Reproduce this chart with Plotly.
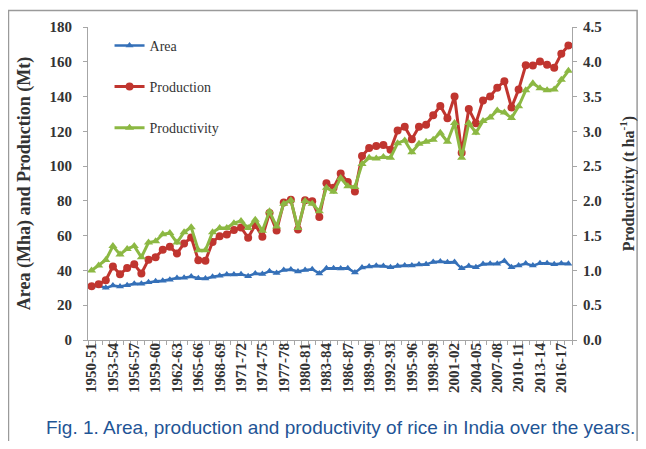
import plotly.graph_objects as go

start_years = list(range(1950, 2018))
year_labels = [f"{y}-{str(y + 1)[-2:]}" for y in start_years]

area_mha = [30.8, 31.3, 30.0, 31.3, 30.8, 31.5, 32.3, 32.3, 33.2, 33.8,
            34.1, 34.7, 35.7, 35.8, 36.5, 35.5, 35.3, 36.4, 37.0, 37.7,
            37.6, 37.8, 36.7, 38.3, 37.9, 39.5, 38.5, 40.3, 40.5, 39.4,
            40.2, 40.7, 38.3, 41.2, 41.2, 41.1, 41.2, 38.8, 41.7, 42.2,
            42.7, 42.6, 41.8, 42.5, 42.8, 42.8, 43.4, 43.5, 44.8, 45.2,
            44.7, 44.9, 41.2, 42.6, 41.9, 43.7, 43.8, 43.9, 45.5, 41.9,
            42.9, 44.0, 42.8, 44.1, 44.1, 43.5, 44.0, 43.8]

production_mt = [30.9, 32.0, 34.4, 42.3, 37.8, 41.4, 43.5, 38.3, 46.2, 47.6,
                 51.9, 53.6, 49.8, 55.5, 59.0, 45.9, 45.6, 56.4, 59.7, 60.6,
                 63.3, 64.7, 58.8, 66.2, 59.4, 73.1, 62.9, 79.1, 80.7, 63.5,
                 80.4, 79.8, 70.7, 90.2, 87.5, 95.7, 90.9, 85.4, 105.8, 110.4,
                 111.5, 112.1, 109.4, 120.5, 122.7, 115.5, 122.6, 123.8, 129.2, 134.6,
                 127.5, 140.0, 107.7, 132.8, 124.7, 137.7, 140.1, 145.1, 148.8, 133.7,
                 144.0, 158.0, 157.8, 160.1, 158.3, 156.6, 164.6, 169.4]

productivity_t_ha = [1.00, 1.07, 1.15, 1.35, 1.23, 1.31, 1.35, 1.19, 1.40, 1.42,
                     1.52, 1.54, 1.40, 1.55, 1.62, 1.29, 1.29, 1.55, 1.61, 1.61,
                     1.68, 1.71, 1.61, 1.73, 1.57, 1.85, 1.63, 1.96, 2.01, 1.61,
                     2.00, 1.96, 1.85, 2.19, 2.13, 2.33, 2.21, 2.20, 2.53, 2.62,
                     2.61, 2.63, 2.62, 2.83, 2.87, 2.70, 2.82, 2.85, 2.88, 2.98,
                     2.85, 3.12, 2.62, 3.12, 2.98, 3.15, 3.20, 3.30, 3.27, 3.19,
                     3.36, 3.59, 3.69, 3.62, 3.59, 3.60, 3.74, 3.87]

BLUE = "#3570b8"
RED = "#c0352f"
GREEN = "#8cb843"
SERIF = "Liberation Serif, Times New Roman, serif"
AXIS_GRAY = "#a6a6a6"
TXT = "#333333"

fig = go.Figure()
fig.add_trace(go.Scatter(
    x=start_years, y=area_mha, name="Area", legendgroup="a",
    mode="lines+markers", line=dict(color=BLUE, width=2.5),
    marker=dict(symbol="triangle-up", size=7, color=BLUE)))
fig.add_trace(go.Scatter(
    x=start_years, y=production_mt, name="Production", legendgroup="p",
    mode="lines+markers", line=dict(color=RED, width=3),
    marker=dict(symbol="circle", size=8, color=RED)))
fig.add_trace(go.Scatter(
    x=start_years, y=productivity_t_ha, name="Productivity", legendgroup="q",
    yaxis="y2",
    mode="lines+markers", line=dict(color=GREEN, width=3),
    marker=dict(symbol="triangle-up", size=8, color=GREEN)))

tick_font = dict(family=SERIF, size=15, color=TXT, weight="bold")

fig.update_layout(
    width=630, height=433,
    margin=dict(l=80, r=66, t=19, b=101),
    paper_bgcolor="white", plot_bgcolor="white",
    showlegend=True,
    legend=dict(x=0.0445, y=0.991, xanchor="left", yanchor="top",
                font=dict(family=SERIF, size=14, color=TXT),
                tracegroupgap=20, bgcolor="rgba(0,0,0,0)"),
    xaxis=dict(
        range=[1949.5, 2017.5], automargin=False,
        tickmode="array",
        tickvals=start_years[::3],
        ticktext=year_labels[::3],
        tickangle=-90,
        tickfont=tick_font, ticklabelstandoff=-4,
        ticks="", showgrid=False, zeroline=False,
        showline=True, linecolor=AXIS_GRAY, linewidth=1,
        minor=dict(ticks="outside", tick0=1949.5, dtick=1, ticklen=4,
                   tickcolor=AXIS_GRAY, showgrid=False),
    ),
    yaxis=dict(
        range=[0, 180], dtick=20, tick0=0, automargin=False,
        tickfont=tick_font, ticklabelstandoff=8,
        title=dict(text="Area (Mha) and Production (Mt)",
                   font=dict(family=SERIF, size=18, color=TXT, weight="bold"),
                   standoff=14),
        ticks="outside", ticklen=4, tickcolor=AXIS_GRAY,
        showgrid=False, zeroline=False,
        showline=True, linecolor=AXIS_GRAY, linewidth=1,
    ),
    yaxis2=dict(
        range=[0, 4.5], dtick=0.5, tick0=0, tickformat=".1f", automargin=False,
        overlaying="y", side="right",
        tickfont=tick_font, ticklabelstandoff=3,
        title=dict(text="Productivity (t ha<sup>-1</sup>)",
                   font=dict(family=SERIF, size=16, color=TXT, weight="bold"),
                   standoff=24),
        ticks="outside", ticklen=4, tickcolor=AXIS_GRAY,
        showgrid=False, zeroline=False,
        showline=True, linecolor=AXIS_GRAY, linewidth=1,
    ),
    shapes=[dict(type="rect", xref="paper", yref="paper",
                 x0=-0.1643, x1=1.1345, y0=-0.40, y1=1.0527,
                 line=dict(color="#9a9a9a", width=1.5), layer="below")],
    annotations=[dict(
        text="Fig. 1. Area, production and productivity of rice in India over the years.",
        xref="paper", yref="paper", x=0.5207, y=-0.3195,
        xanchor="center", yanchor="bottom", showarrow=False,
        font=dict(family="Liberation Sans, Arial, sans-serif",
                  size=19, color="#1f5596"))],
)

fig.write_html("out.html")
